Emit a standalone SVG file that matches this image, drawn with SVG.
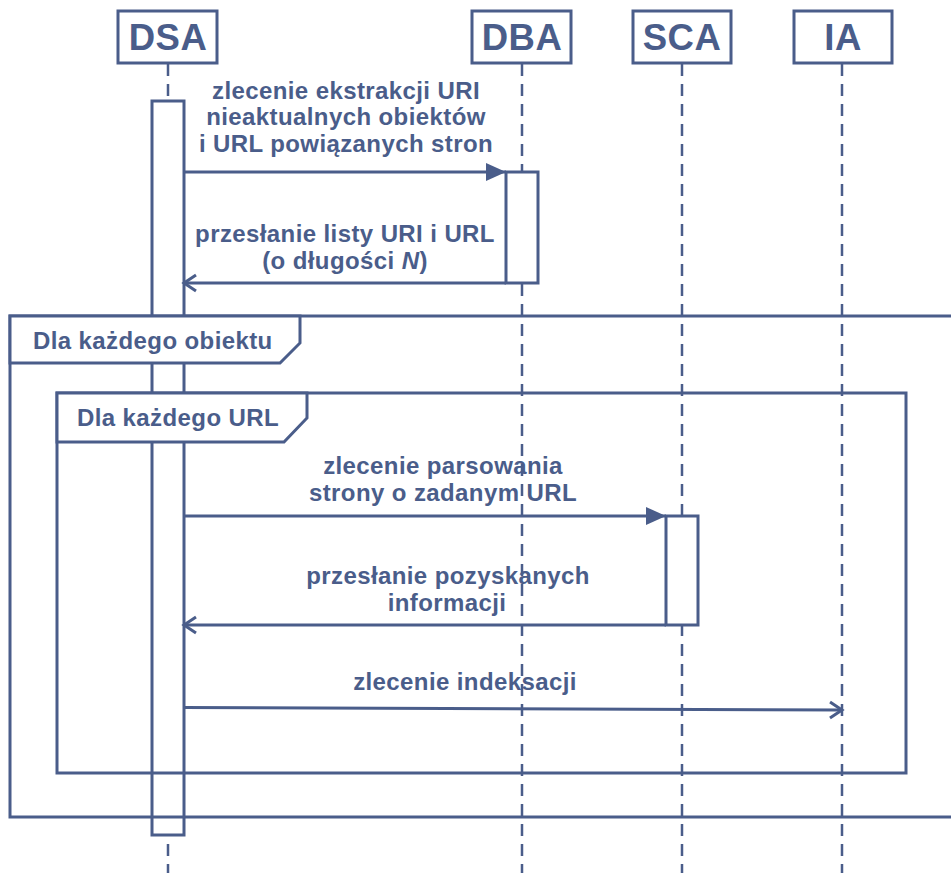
<svg xmlns="http://www.w3.org/2000/svg" width="951" height="873" viewBox="0 0 951 873">
  <defs>
    <style>
      .box { fill: #ffffff; stroke: #4a5d8a; stroke-width: 3; }
      .life { stroke: #4a5d8a; stroke-width: 2.5; stroke-dasharray: 12 8; fill: none; }
      .frame { fill: none; stroke: #4a5d8a; stroke-width: 3; }
      .tag { fill: #ffffff; stroke: #4a5d8a; stroke-width: 3; stroke-linejoin: miter; }
      .msg { stroke: #4a5d8a; stroke-width: 3; fill: none; }
      text { font-family: "Liberation Sans", Arial, Helvetica, sans-serif; font-weight: bold; fill: #4a5d8a; }
      .head { font-size: 36.5px; letter-spacing: 0.5px; text-anchor: middle; }
      .lbl { font-size: 24px; letter-spacing: 0.4px; text-anchor: middle; }
      .ftag { font-size: 24px; letter-spacing: 0.4px; }
    </style>
    <marker id="solid" markerUnits="userSpaceOnUse" markerWidth="22" markerHeight="18" refX="21" refY="9" orient="auto" overflow="visible">
      <path d="M1,0 L21,9 L1,18 Z" fill="#4a5d8a"/>
    </marker>
    <marker id="open" markerUnits="userSpaceOnUse" markerWidth="14" markerHeight="18" refX="13" refY="9" orient="auto" overflow="visible">
      <path d="M1,1 L13,9 L1,17" fill="none" stroke="#4a5d8a" stroke-width="3"/>
    </marker>
  </defs>

  <rect width="951" height="873" fill="#ffffff"/>

  <!-- lifelines with their head boxes -->
  <g id="DSA">
    <line class="life" x1="168" y1="64" x2="168" y2="873"/>
    <rect class="box" x="118" y="11" width="99" height="52"/>
    <text class="head" x="168" y="50">DSA</text>
  </g>
  <g id="DBA">
    <line class="life" x1="522" y1="64" x2="522" y2="873"/>
    <rect class="box" x="472" y="11" width="99" height="52"/>
    <text class="head" x="522" y="50">DBA</text>
  </g>
  <g id="SCA">
    <line class="life" x1="682" y1="64" x2="682" y2="873"/>
    <rect class="box" x="633" y="11" width="98" height="52"/>
    <text class="head" x="682" y="50">SCA</text>
  </g>
  <g id="IA">
    <line class="life" x1="842" y1="64" x2="842" y2="873"/>
    <rect class="box" x="794" y="11" width="98" height="52"/>
    <text class="head" x="843" y="50">IA</text>
  </g>

  <!-- activation bars -->
  <g id="activations">
    <rect id="act-dsa" class="box" x="152" y="101" width="32" height="734"/>
    <rect id="act-dba" class="box" x="506" y="172" width="32" height="111"/>
    <rect id="act-sca" class="box" x="666" y="516" width="32" height="109"/>
  </g>

  <!-- loop fragments -->
  <g id="loop-obiekt">
    <rect class="frame" x="10" y="316" width="960" height="501"/>
    <path class="tag" d="M10,316 H300 V343 L280,363 H10 Z"/>
    <text class="ftag" x="33" y="349">Dla każdego obiektu</text>
  </g>
  <g id="loop-url">
    <rect class="frame" x="57" y="393" width="849" height="380"/>
    <path class="tag" d="M57,393 H307 V418 L284,442 H57 Z"/>
    <text class="ftag" x="77" y="426">Dla każdego URL</text>
  </g>

  <!-- messages -->
  <g id="connectors">
    <line class="msg" x1="184" y1="172" x2="506" y2="172" marker-end="url(#solid)"/>
    <line class="msg" x1="506" y1="283" x2="184" y2="283" marker-end="url(#open)"/>
    <line class="msg" x1="184" y1="516" x2="666" y2="516" marker-end="url(#solid)"/>
    <line class="msg" x1="666" y1="625" x2="184" y2="625" marker-end="url(#open)"/>
    <line class="msg" x1="184" y1="707.5" x2="842" y2="710" marker-end="url(#open)"/>
  </g>

  <g id="labels">
    <text class="lbl" x="346" y="99">zlecenie ekstrakcji URI</text>
    <text class="lbl" x="346" y="125">nieaktualnych obiektów</text>
    <text class="lbl" x="346" y="152">i URL powiązanych stron</text>

    <text class="lbl" x="345" y="242">przesłanie listy URI i URL</text>
    <text class="lbl" x="345" y="269">(o długości <tspan font-style="italic">N</tspan>)</text>

    <text class="lbl" x="443" y="474">zlecenie parsowania</text>
    <text class="lbl" x="443" y="501">strony o zadanym URL</text>

    <text class="lbl" x="448" y="584">przesłanie pozyskanych</text>
    <text class="lbl" x="447" y="611">informacji</text>

    <text class="lbl" x="465" y="690">zlecenie indeksacji</text>
  </g>
</svg>
